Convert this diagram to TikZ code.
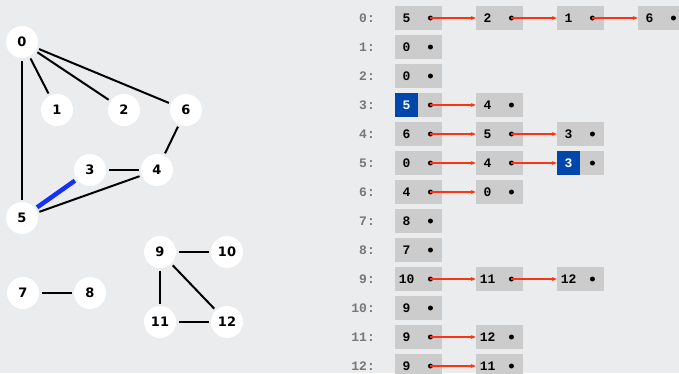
\documentclass[tikz,border=0pt]{standalone}
\usepackage{fontspec}
\newfontfamily\nodefont{DejaVu Sans}
\newfontfamily\listfont{Liberation Mono}
\usetikzlibrary{arrows.meta}
\definecolor{bg}{HTML}{EBECEE}
\definecolor{boxgray}{HTML}{CCCCCC}
\definecolor{hlblue}{HTML}{0047AB}
\definecolor{edgeblue}{HTML}{1432F5}
\definecolor{linkred}{HTML}{FF3311}
\definecolor{labgray}{HTML}{777777}
\tikzset{
  vertex/.style={circle, fill=white, minimum size=32pt, inner sep=0pt, outer sep=2.5pt,
    font={\fontsize{13}{15}\selectfont\nodefont\bfseries}},
  edge/.style={line width=2pt, black},
  hedge/.style={line width=4.5pt, edgeblue},
  lbox/.style={rectangle, fill=boxgray, minimum width=47pt, minimum height=24pt, inner sep=0pt},
  num/.style={rectangle, minimum width=23.5pt, minimum height=24pt, inner sep=0pt,
    font={\fontsize{13}{15}\selectfont\listfont\bfseries}},
  hnum/.style={num, fill=hlblue, text=white},
  dotn/.style={circle, fill=black, minimum size=5pt, inner sep=0pt},
  rowlab/.style={anchor=east, text=labgray, inner sep=0pt,
    font={\fontsize{13}{15}\selectfont\listfont\bfseries}},
  link/.style={line width=1.3pt, linkred, -{Stealth[length=5pt,width=4pt]}}
}
\newcommand\cell[4]{%
  \node[lbox] (#1) at ({418.5+81*#2},{18+29*#3}) {};
  \node[num] (#1n) at ([xshift=11.75pt]#1.west) {#4};
  \node[dotn] (#1d) at ([xshift=-11.75pt]#1.east) {};
}
\newcommand\hcell[4]{%
  \node[lbox] (#1) at ({418.5+81*#2},{18+29*#3}) {};
  \node[hnum] (#1n) at ([xshift=11.75pt]#1.west) {#4};
  \node[dotn] (#1d) at ([xshift=-11.75pt]#1.east) {};
}
\begin{document}
\begin{tikzpicture}[x=1pt,y=-1pt]
\fill[bg] (0,0) rectangle (679,373);
\useasboundingbox (0,0) rectangle (679,373);
% graph
\node[vertex] (v0) at (22,42) {0};
\node[vertex] (v1) at (57,110) {1};
\node[vertex] (v2) at (124,110) {2};
\node[vertex] (v6) at (186,110) {6};
\node[vertex] (v3) at (90,170) {3};
\node[vertex] (v4) at (157,170) {4};
\node[vertex] (v5) at (22,218) {5};
\node[vertex] (v7) at (23,293) {7};
\node[vertex] (v8) at (90,293) {8};
\node[vertex] (v9) at (160,252) {9};
\node[vertex] (v10) at (227,252) {10};
\node[vertex] (v11) at (160,322) {11};
\node[vertex] (v12) at (227,322) {12};
\draw[edge] (v0) -- (v1);
\draw[edge] (v0) -- (v2);
\draw[edge] (v0) -- (v6);
\draw[edge] (v0) -- (v5);
\draw[edge] (v6) -- (v4);
\draw[edge] (v3) -- (v4);
\draw[edge] (v4) -- (v5);
\draw[hedge] (v3) -- (v5);
\draw[edge] (v7) -- (v8);
\draw[edge] (v9) -- (v10);
\draw[edge] (v9) -- (v11);
\draw[edge] (v9) -- (v12);
\draw[edge] (v11) -- (v12);
% row labels
\foreach \i in {0,...,12} {
  \node[rowlab] (lab\i) at (375,{18+29*\i}) {\i:};
}
% cells
\cell{a0}{0}{0}{5}\cell{a1}{1}{0}{2}\cell{a2}{2}{0}{1}\cell{a3}{3}{0}{6}
\cell{b0}{0}{1}{0}
\cell{c0}{0}{2}{0}
\hcell{d0}{0}{3}{5}\cell{d1}{1}{3}{4}
\cell{e0}{0}{4}{6}\cell{e1}{1}{4}{5}\cell{e2}{2}{4}{3}
\cell{f0}{0}{5}{0}\cell{f1}{1}{5}{4}\hcell{f2}{2}{5}{3}
\cell{g0}{0}{6}{4}\cell{g1}{1}{6}{0}
\cell{h0}{0}{7}{8}
\cell{i0}{0}{8}{7}
\cell{j0}{0}{9}{10}\cell{j1}{1}{9}{11}\cell{j2}{2}{9}{12}
\cell{k0}{0}{10}{9}
\cell{l0}{0}{11}{9}\cell{l1}{1}{11}{12}
\cell{m0}{0}{12}{9}\cell{m1}{1}{12}{11}
% links
\draw[link] (a0d.center) -- (a1.west);
\draw[link] (a1d.center) -- (a2.west);
\draw[link] (a2d.center) -- (a3.west);
\draw[link] (d0d.center) -- (d1.west);
\draw[link] (e0d.center) -- (e1.west);
\draw[link] (e1d.center) -- (e2.west);
\draw[link] (f0d.center) -- (f1.west);
\draw[link] (f1d.center) -- (f2.west);
\draw[link] (g0d.center) -- (g1.west);
\draw[link] (j0d.center) -- (j1.west);
\draw[link] (j1d.center) -- (j2.west);
\draw[link] (l0d.center) -- (l1.west);
\draw[link] (m0d.center) -- (m1.west);
\end{tikzpicture}
\end{document}
